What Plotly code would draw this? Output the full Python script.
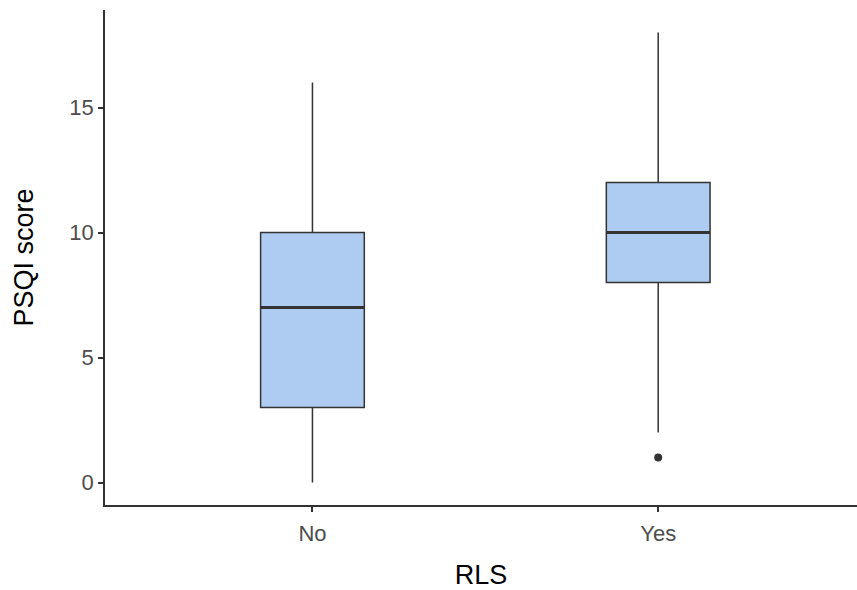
import plotly.graph_objects as go

categories = ["No", "Yes"]
q1 = [3, 8]
median = [7, 10]
q3 = [10, 12]
lower = [0, 2]
upper = [16, 18]
outliers_x = ["Yes"]
outliers_y = [1]

pos = list(range(len(categories)))
half_w = 0.15

fig = go.Figure()
fig.add_trace(go.Box(
    x=pos, q1=q1, median=median, q3=q3, lowerfence=lower, upperfence=upper,
    width=2 * half_w, fillcolor="#aecbf2",
    line=dict(color="#333333", width=1.5),
    boxpoints=False, whiskerwidth=0, showlegend=False, hoverinfo="skip",
))
# thicker median lines
for i, m in zip(pos, median):
    fig.add_trace(go.Scatter(
        x=[i - half_w, i + half_w], y=[m, m], mode="lines",
        line=dict(color="#333333", width=3), showlegend=False, hoverinfo="skip",
    ))
fig.add_trace(go.Scatter(
    x=[categories.index(c) for c in outliers_x], y=outliers_y, mode="markers",
    marker=dict(color="#333333", size=8), showlegend=False,
))

fig.update_layout(
    width=857, height=590,
    margin=dict(l=105, r=0, t=10, b=85),
    plot_bgcolor="white", paper_bgcolor="white",
    font=dict(family="Liberation Sans, Arial, sans-serif"),
)
fig.update_xaxes(
    range=[-0.6, 1.575], tickvals=pos, ticktext=categories,
    showline=True, linecolor="#333333", linewidth=1.5,
    ticks="outside", ticklen=5, tickcolor="#333333", tickwidth=1.5,
    tickfont=dict(size=22, color="#4d4d4d"), ticklabelstandoff=3,
    showgrid=False, zeroline=False,
    title=dict(text="RLS", font=dict(size=27, color="#000000"), standoff=24),
)
fig.update_yaxes(
    range=[-0.9, 18.9], tickvals=[0, 5, 10, 15],
    showline=True, linecolor="#333333", linewidth=1.5,
    ticks="outside", ticklen=5, tickcolor="#333333", tickwidth=1.5,
    tickfont=dict(size=22, color="#4d4d4d"),
    showgrid=False, zeroline=False,
    title=dict(text="PSQI score", font=dict(size=27, color="#000000"), standoff=28),
)
fig.write_html("out.html")
